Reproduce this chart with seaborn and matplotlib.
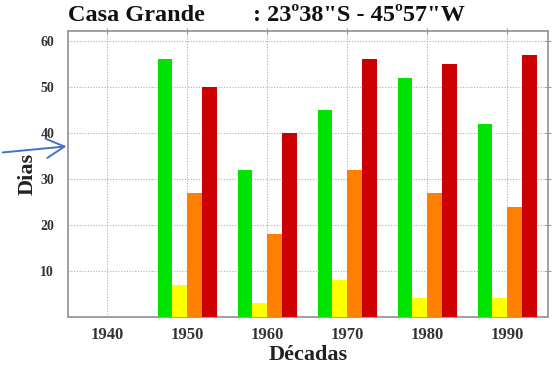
import numpy as np
import pandas as pd
import seaborn as sns
import matplotlib.pyplot as plt
from matplotlib.patches import FancyArrowPatch

decadas = ["1940", "1950", "1960", "1970", "1980", "1990"]
classes = ["verde", "amarelo", "laranja", "vermelho"]
verde = [np.nan, 56, 32, 45, 52, 42]
amarelo = [np.nan, 7, 3, 8, 4, 4]
laranja = [np.nan, 27, 18, 32, 27, 24]
vermelho = [np.nan, 50, 40, 56, 55, 57]
cores = ["#00e400", "#ffff00", "#ff8000", "#cc0000"]

linhas = []
for nome, vals in zip(classes, [verde, amarelo, laranja, vermelho]):
    for d, v in zip(decadas, vals):
        linhas.append({"Década": d, "classe": nome, "Dias": v})
df = pd.DataFrame(linhas)

sns.set_style("white")
plt.rcParams['font.family'] = ['Liberation Serif', 'DejaVu Serif']

fig = plt.figure(figsize=(5.58, 3.68), dpi=100)
ax = fig.add_axes([0.122, 0.139, 0.86, 0.777])

sns.barplot(data=df, x="Década", y="Dias", hue="classe", order=decadas,
            hue_order=classes, palette=cores, width=0.74, saturation=1,
            linewidth=0, legend=False, ax=ax, zorder=3)

ax.set_xlim(-0.49, 5.51)
ax.set_ylim(0, 62.2)
ax.set_yticks([10, 20, 30, 40, 50, 60])
ax.grid(True, linestyle=(0, (1, 1.5)), color="#b0b0b0", linewidth=0.8, zorder=0)
ax.set_axisbelow(True)
for s in ax.spines.values():
    s.set_color("#999999")
    s.set_linewidth(1.3)
ax.tick_params(axis="both", direction="inout", length=4, color="#999999",
               top=True, right=True, labelcolor="#333333")
ax.tick_params(axis="y", labelsize=10, pad=8)
ax.tick_params(axis="x", labelsize=12, pad=5)
for lab in ax.get_xticklabels() + ax.get_yticklabels():
    lab.set_fontweight("bold")

ax.set_ylabel("Dias", fontsize=16, fontweight="bold", color="#222222", labelpad=2)
ax.set_xlabel("Décadas", fontsize=16, fontweight="bold", color="#222222", labelpad=2)

fig.text(0.122, 0.957, "Casa Grande", fontsize=17.5, fontweight="bold",
         ha="left", va="center", color="#111111")
fig.text(0.453, 0.957, ": 23º38\"S - 45º57\"W", fontsize=17.5, fontweight="bold",
         ha="left", va="center", color="#111111")

# seta azul
fig.add_artist(FancyArrowPatch(
    (0.0, 0.585), (0.124, 0.603), transform=fig.transFigure,
    arrowstyle="->,head_length=13,head_width=7", color="#4472c4",
    linewidth=1.4, mutation_scale=1))

fig.savefig("out.png", dpi=100)
